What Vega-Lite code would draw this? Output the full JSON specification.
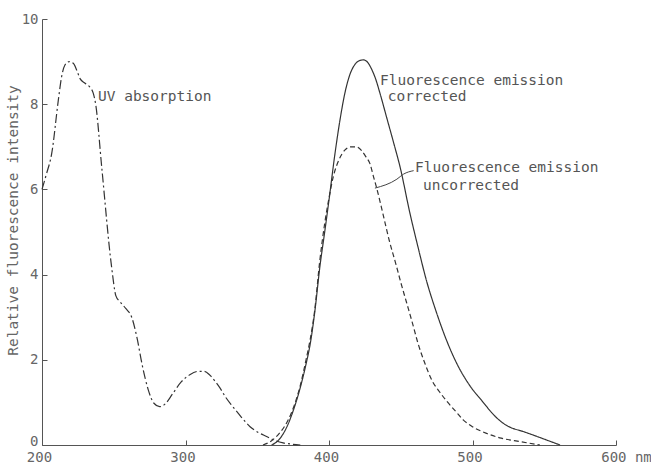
{
  "$schema": "https://vega.github.io/schema/vega-lite/v6.json",
  "width": 574,
  "height": 426,
  "autosize": "none",
  "padding": {"left": 42, "top": 19, "right": 35, "bottom": 19},
  "background": "white",
  "config": {
    "view": {"stroke": null},
    "font": "DejaVu Sans Mono",
    "axis": {"grid": false, "domainColor": "#555", "tickColor": "#555", "labelColor": "#666", "titleColor": "#666", "labelFont": "DejaVu Sans Mono", "titleFont": "DejaVu Sans Mono", "titleFontWeight": "normal", "labelFontSize": 14, "titleFontSize": 14.5}
  },
  "datasets": {
    "curves": [
      {"series": "UV absorption", "nm": 200, "val": 6.0},
      {"series": "UV absorption", "nm": 203, "val": 6.35},
      {"series": "UV absorption", "nm": 206.8, "val": 6.85},
      {"series": "UV absorption", "nm": 211.4, "val": 8.1},
      {"series": "UV absorption", "nm": 213.7, "val": 8.65},
      {"series": "UV absorption", "nm": 216, "val": 8.92},
      {"series": "UV absorption", "nm": 219, "val": 9.0},
      {"series": "UV absorption", "nm": 221.8, "val": 8.96},
      {"series": "UV absorption", "nm": 224.2, "val": 8.8},
      {"series": "UV absorption", "nm": 226.5, "val": 8.6},
      {"series": "UV absorption", "nm": 230, "val": 8.49},
      {"series": "UV absorption", "nm": 233.4, "val": 8.4},
      {"series": "UV absorption", "nm": 235.7, "val": 8.26},
      {"series": "UV absorption", "nm": 237.4, "val": 8.0},
      {"series": "UV absorption", "nm": 241.6, "val": 6.53},
      {"series": "UV absorption", "nm": 248.5, "val": 4.18},
      {"series": "UV absorption", "nm": 251.5, "val": 3.5},
      {"series": "UV absorption", "nm": 254.4, "val": 3.36},
      {"series": "UV absorption", "nm": 258.5, "val": 3.2},
      {"series": "UV absorption", "nm": 262.5, "val": 3.0},
      {"series": "UV absorption", "nm": 266, "val": 2.55},
      {"series": "UV absorption", "nm": 270, "val": 1.85},
      {"series": "UV absorption", "nm": 274, "val": 1.3},
      {"series": "UV absorption", "nm": 278, "val": 0.98},
      {"series": "UV absorption", "nm": 282, "val": 0.9},
      {"series": "UV absorption", "nm": 286, "val": 0.97},
      {"series": "UV absorption", "nm": 291, "val": 1.2},
      {"series": "UV absorption", "nm": 297, "val": 1.48},
      {"series": "UV absorption", "nm": 303, "val": 1.65},
      {"series": "UV absorption", "nm": 309, "val": 1.73},
      {"series": "UV absorption", "nm": 313, "val": 1.73},
      {"series": "UV absorption", "nm": 317, "val": 1.64},
      {"series": "UV absorption", "nm": 321, "val": 1.48},
      {"series": "UV absorption", "nm": 324, "val": 1.34},
      {"series": "UV absorption", "nm": 328, "val": 1.12},
      {"series": "UV absorption", "nm": 333, "val": 0.9},
      {"series": "UV absorption", "nm": 339, "val": 0.65},
      {"series": "UV absorption", "nm": 345, "val": 0.43},
      {"series": "UV absorption", "nm": 351, "val": 0.29},
      {"series": "UV absorption", "nm": 356.5, "val": 0.2},
      {"series": "UV absorption", "nm": 362, "val": 0.11},
      {"series": "UV absorption", "nm": 368, "val": 0.05},
      {"series": "UV absorption", "nm": 374, "val": 0.02},
      {"series": "UV absorption", "nm": 380, "val": 0.0},
      {"series": "corrected", "nm": 360, "val": 0.0},
      {"series": "corrected", "nm": 365, "val": 0.12},
      {"series": "corrected", "nm": 370.7, "val": 0.43},
      {"series": "corrected", "nm": 375, "val": 0.8},
      {"series": "corrected", "nm": 380, "val": 1.35},
      {"series": "corrected", "nm": 384, "val": 1.9},
      {"series": "corrected", "nm": 387, "val": 2.39},
      {"series": "corrected", "nm": 390, "val": 3.1},
      {"series": "corrected", "nm": 393.7, "val": 4.2},
      {"series": "corrected", "nm": 397, "val": 5.0},
      {"series": "corrected", "nm": 400, "val": 5.75},
      {"series": "corrected", "nm": 404, "val": 6.8},
      {"series": "corrected", "nm": 408, "val": 7.7},
      {"series": "corrected", "nm": 411, "val": 8.25},
      {"series": "corrected", "nm": 414.6, "val": 8.7},
      {"series": "corrected", "nm": 418, "val": 8.93},
      {"series": "corrected", "nm": 421, "val": 9.02},
      {"series": "corrected", "nm": 424, "val": 9.04},
      {"series": "corrected", "nm": 427, "val": 8.98},
      {"series": "corrected", "nm": 430, "val": 8.8},
      {"series": "corrected", "nm": 432, "val": 8.64},
      {"series": "corrected", "nm": 436, "val": 8.2},
      {"series": "corrected", "nm": 440, "val": 7.71},
      {"series": "corrected", "nm": 445, "val": 7.1},
      {"series": "corrected", "nm": 449.5, "val": 6.53},
      {"series": "corrected", "nm": 456.4, "val": 5.44},
      {"series": "corrected", "nm": 462, "val": 4.65},
      {"series": "corrected", "nm": 468, "val": 3.85},
      {"series": "corrected", "nm": 475, "val": 3.1},
      {"series": "corrected", "nm": 482, "val": 2.45},
      {"series": "corrected", "nm": 490, "val": 1.85},
      {"series": "corrected", "nm": 498, "val": 1.4},
      {"series": "corrected", "nm": 507, "val": 1.02},
      {"series": "corrected", "nm": 515, "val": 0.7},
      {"series": "corrected", "nm": 521, "val": 0.52},
      {"series": "corrected", "nm": 526, "val": 0.42},
      {"series": "corrected", "nm": 535, "val": 0.32},
      {"series": "corrected", "nm": 545, "val": 0.2},
      {"series": "corrected", "nm": 553, "val": 0.1},
      {"series": "corrected", "nm": 561, "val": 0.0},
      {"series": "uncorrected", "nm": 354, "val": 0.0},
      {"series": "uncorrected", "nm": 360, "val": 0.1},
      {"series": "uncorrected", "nm": 366, "val": 0.3},
      {"series": "uncorrected", "nm": 371, "val": 0.55},
      {"series": "uncorrected", "nm": 376, "val": 0.95},
      {"series": "uncorrected", "nm": 380, "val": 1.4},
      {"series": "uncorrected", "nm": 384, "val": 2.0},
      {"series": "uncorrected", "nm": 387, "val": 2.5},
      {"series": "uncorrected", "nm": 390, "val": 3.15},
      {"series": "uncorrected", "nm": 393.5, "val": 4.3},
      {"series": "uncorrected", "nm": 397, "val": 5.2},
      {"series": "uncorrected", "nm": 400, "val": 5.8},
      {"series": "uncorrected", "nm": 403, "val": 6.3},
      {"series": "uncorrected", "nm": 407, "val": 6.7},
      {"series": "uncorrected", "nm": 411, "val": 6.92},
      {"series": "uncorrected", "nm": 415, "val": 7.0},
      {"series": "uncorrected", "nm": 419, "val": 7.0},
      {"series": "uncorrected", "nm": 423, "val": 6.9},
      {"series": "uncorrected", "nm": 426, "val": 6.75},
      {"series": "uncorrected", "nm": 428.6, "val": 6.6},
      {"series": "uncorrected", "nm": 431, "val": 6.3},
      {"series": "uncorrected", "nm": 433, "val": 6.06},
      {"series": "uncorrected", "nm": 437.5, "val": 5.44},
      {"series": "uncorrected", "nm": 442, "val": 4.8},
      {"series": "uncorrected", "nm": 447, "val": 4.2},
      {"series": "uncorrected", "nm": 450, "val": 3.82},
      {"series": "uncorrected", "nm": 454, "val": 3.35},
      {"series": "uncorrected", "nm": 458, "val": 2.88},
      {"series": "uncorrected", "nm": 462, "val": 2.39},
      {"series": "uncorrected", "nm": 467, "val": 1.9},
      {"series": "uncorrected", "nm": 472, "val": 1.5},
      {"series": "uncorrected", "nm": 477, "val": 1.25},
      {"series": "uncorrected", "nm": 482, "val": 1.03},
      {"series": "uncorrected", "nm": 488, "val": 0.8},
      {"series": "uncorrected", "nm": 493.5, "val": 0.59},
      {"series": "uncorrected", "nm": 500, "val": 0.43},
      {"series": "uncorrected", "nm": 510, "val": 0.27},
      {"series": "uncorrected", "nm": 520, "val": 0.16},
      {"series": "uncorrected", "nm": 533, "val": 0.08},
      {"series": "uncorrected", "nm": 547, "val": 0.0}
    ],
    "leader": [
      {"nm": 432, "val": 6.03},
      {"nm": 447.3, "val": 6.24},
      {"nm": 452, "val": 6.36},
      {"nm": 459, "val": 6.44}
    ],
    "labels": [
      {"text": "UV absorption", "nm": 239, "val": 8.17},
      {"text": "Fluorescence emission", "nm": 435.5, "val": 8.54},
      {"text": "corrected", "nm": 441, "val": 8.16},
      {"text": "Fluorescence emission", "nm": 460, "val": 6.5},
      {"text": "uncorrected", "nm": 465.5, "val": 6.08}
    ]
  },
  "layer": [
    {
      "data": {"name": "curves"},
      "mark": {"type": "line", "stroke": "#333", "strokeWidth": 1.2, "interpolate": "monotone", "clip": false},
      "encoding": {
        "x": {
          "field": "nm", "type": "quantitative",
          "scale": {"domain": [200, 600], "nice": false, "zero": false},
          "axis": {
            "title": null,
            "values": [200, 300, 400, 500, 600],
            "tickSize": -5,
            "labelPadding": 10,
            "labelExpr": "datum.value == 600 ? '600 nm' : datum.label",
            "labelOffset": {"condition": {"test": "datum.value == 600", "value": 10}, "value": -3},
            "labelFlush": false
          }
        },
        "y": {
          "field": "val", "type": "quantitative",
          "scale": {"domain": [0, 10], "nice": false},
          "axis": {
            "title": "Relative fluorescence intensity",
            "values": [0, 2, 4, 6, 8, 10],
            "tickSize": -5,
            "labelPadding": 9,
            "labelBaseline": "middle",
            "labelOffset": {"condition": {"test": "datum.value == 0", "value": -4}, "value": 0},
            "labelFlush": false,
            "titleAngle": -90,
            "titleX": -29,
            "titleY": 201,
            "titleAlign": "center",
            "titleBaseline": "middle"
          }
        },
        "strokeDash": {
          "field": "series", "type": "nominal",
          "scale": {"domain": ["UV absorption", "corrected", "uncorrected"], "range": [[9, 3, 2, 3], [1, 0], [5, 3]]},
          "legend": null
        },
        "order": {"field": "nm", "type": "quantitative"}
      }
    },
    {
      "data": {"name": "leader"},
      "mark": {"type": "line", "stroke": "#444", "strokeWidth": 1, "interpolate": "monotone"},
      "encoding": {
        "x": {"field": "nm", "type": "quantitative"},
        "y": {"field": "val", "type": "quantitative"}
      }
    },
    {
      "data": {"name": "labels"},
      "mark": {"type": "text", "align": "left", "baseline": "middle", "font": "DejaVu Sans Mono", "fontSize": 14.5, "fill": "#555"},
      "encoding": {
        "x": {"field": "nm", "type": "quantitative"},
        "y": {"field": "val", "type": "quantitative"},
        "text": {"field": "text"}
      }
    }
  ]
}
